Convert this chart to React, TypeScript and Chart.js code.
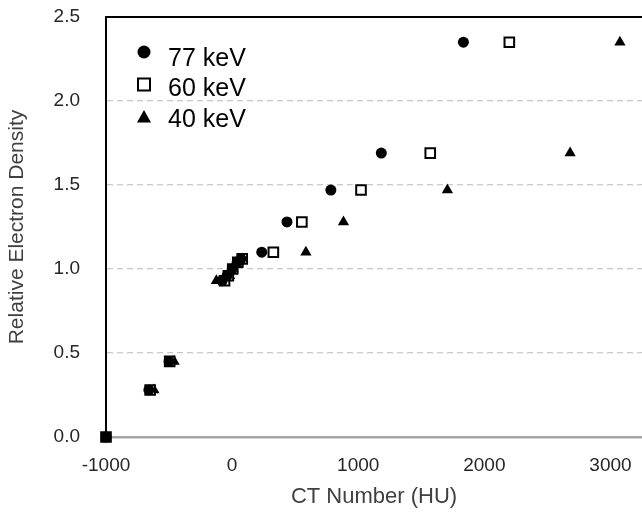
import React, { useEffect, useRef } from 'react';
import { Chart, registerables } from 'chart.js';

Chart.register(...registerables);

// Relative electron density (y) of each insert, shared by all series
const ELECTRON_DENSITY = [0.0, 0.28, 0.45, 0.93, 0.96, 1.0, 1.04, 1.06, 1.1, 1.28, 1.47, 1.69, 2.35];
// CT number (HU) of each insert per energy
const CT_77KEV = [-1000, -660, -500, -80, -40, 0, 40, 70, 235, 435, 783, 1183, 1834];
const CT_60KEV = [-1000, -650, -495, -60, -30, 5, 45, 80, 327, 553, 1022, 1571, 2198];
const CT_40KEV = [-1000, -620, -460, -125, -20, 10, 50, 85, 585, 883, 1707, 2680, 3075];
const SERIES_LABELS = ['77 keV', '60 keV', '40 keV'];
const X_TICKS = [-1000, 0, 1000, 2000, 3000];
const Y_TICKS = [0, 0.5, 1, 1.5, 2, 2.5];

const FONT = '"Liberation Sans", Arial, sans-serif';

const toPoints = (xs: number[]) => xs.map((x, i) => ({ x, y: ELECTRON_DENSITY[i] }));

const zeroPadding = (scale: any) => {
  scale.paddingTop = 0;
  scale.paddingBottom = 0;
  scale.paddingLeft = 0;
  scale.paddingRight = 0;
};

const legendPlugin = {
  id: 'insideLegend',
  afterDraw(chart: any) {
    const ctx = chart.ctx as CanvasRenderingContext2D;
    const { left, top } = chart.chartArea;
    ctx.save();
    chart.data.datasets.forEach((ds: any, i: number) => {
      const cx = left + 38;
      const cy = top + 35 + i * 32.5;
      ctx.fillStyle = '#000';
      ctx.strokeStyle = '#000';
      if (i === 0) {
        ctx.beginPath();
        ctx.arc(cx, cy, 6.5, 0, Math.PI * 2);
        ctx.fill();
      } else if (i === 1) {
        ctx.lineWidth = 2;
        ctx.strokeRect(cx - 6, cy - 6, 12, 12);
      } else {
        ctx.beginPath();
        ctx.moveTo(cx, cy - 7);
        ctx.lineTo(cx + 7, cy + 5.5);
        ctx.lineTo(cx - 7, cy + 5.5);
        ctx.closePath();
        ctx.fill();
      }
      ctx.font = `25px ${FONT}`;
      ctx.textBaseline = 'middle';
      ctx.textAlign = 'left';
      ctx.fillStyle = '#000';
      ctx.fillText(ds.label, left + 62, top + 42 + i * 30.5);
    });
    ctx.restore();
  },
};

export default function App() {
  const canvasRef = useRef<HTMLCanvasElement | null>(null);

  useEffect(() => {
    if (!canvasRef.current) return;
    const chart = new Chart(canvasRef.current, {
      type: 'scatter',
      data: {
        datasets: [
          {
            label: SERIES_LABELS[0],
            data: toPoints(CT_77KEV),
            pointStyle: 'circle',
            pointRadius: 5.5,
            pointBackgroundColor: '#000',
            pointBorderColor: '#000',
            pointBorderWidth: 0,
            clip: false as any,
          },
          {
            label: SERIES_LABELS[1],
            data: toPoints(CT_60KEV),
            pointStyle: 'rect',
            pointRadius: 6.8,
            pointBackgroundColor: '#fff',
            pointBorderColor: '#000',
            pointBorderWidth: 2,
            clip: false as any,
          },
          {
            label: SERIES_LABELS[2],
            data: toPoints(CT_40KEV),
            pointStyle: 'triangle',
            pointRadius: 6.5,
            pointBackgroundColor: '#000',
            pointBorderColor: '#000',
            pointBorderWidth: 0,
            clip: false as any,
          },
        ],
      },
      options: {
        responsive: false,
        animation: false,
        events: [],
        layout: { autoPadding: false, padding: { top: 17, left: 0, right: 0, bottom: 0 } },
        plugins: {
          legend: { display: false },
          tooltip: { enabled: false },
        },
        scales: {
          x: {
            type: 'linear',
            min: -1000,
            max: 3250,
            afterBuildTicks: (scale: any) => {
              scale.ticks = X_TICKS.map((v) => ({ value: v }));
            },
            afterFit: (scale: any) => {
              scale.height = 75;
              zeroPadding(scale);
            },
            grid: { display: false, drawTicks: false },
            border: { display: false },
            ticks: {
              padding: 17,
              color: '#262626',
              font: { family: FONT, size: 19 },
              callback: (v: any) => String(v),
            },
            title: {
              display: true,
              text: 'CT Number (HU)',
              color: '#404040',
              font: { family: FONT, size: 22 },
              padding: { top: 0, bottom: 2 },
            },
          },
          y: {
            type: 'linear',
            min: 0,
            max: 2.5,
            afterBuildTicks: (scale: any) => {
              scale.ticks = Y_TICKS.map((v) => ({ value: v }));
            },
            afterFit: (scale: any) => {
              scale.width = 106;
              zeroPadding(scale);
            },
            grid: {
              drawTicks: false,
              color: (c: any) => {
                const v = c.tick ? c.tick.value : null;
                if (v === 0) return '#a6a6a6';
                if (v === 2.5) return '#000';
                return '#c8c8c8';
              },
              lineWidth: (c: any) => {
                const v = c.tick ? c.tick.value : null;
                if (v === 0) return 2.5;
                if (v === 2.5) return 2;
                return 1.3;
              },
            },
            border: {
              display: true,
              color: '#000',
              width: 2,
              dash: (c: any) => {
                const v = c.tick ? c.tick.value : null;
                if (v === null || v === undefined || v === 0 || v === 2.5) return [];
                return [6, 4];
              },
            } as any,
            ticks: {
              padding: 26,
              color: '#262626',
              font: { family: FONT, size: 19 },
              callback: (v: any) => Number(v).toFixed(1),
            },
            title: {
              display: true,
              text: 'Relative Electron Density',
              color: '#404040',
              font: { family: FONT, size: 21 },
              padding: { top: 5, bottom: 0 },
            },
          },
        },
      },
      plugins: [legendPlugin],
    });
    return () => chart.destroy();
  }, []);

  return (
    <div style={{ position: 'absolute', left: 0, top: 0, width: 642, height: 512, background: '#fff' }}>
      <canvas ref={canvasRef} width={642} height={512} />
    </div>
  );
}
